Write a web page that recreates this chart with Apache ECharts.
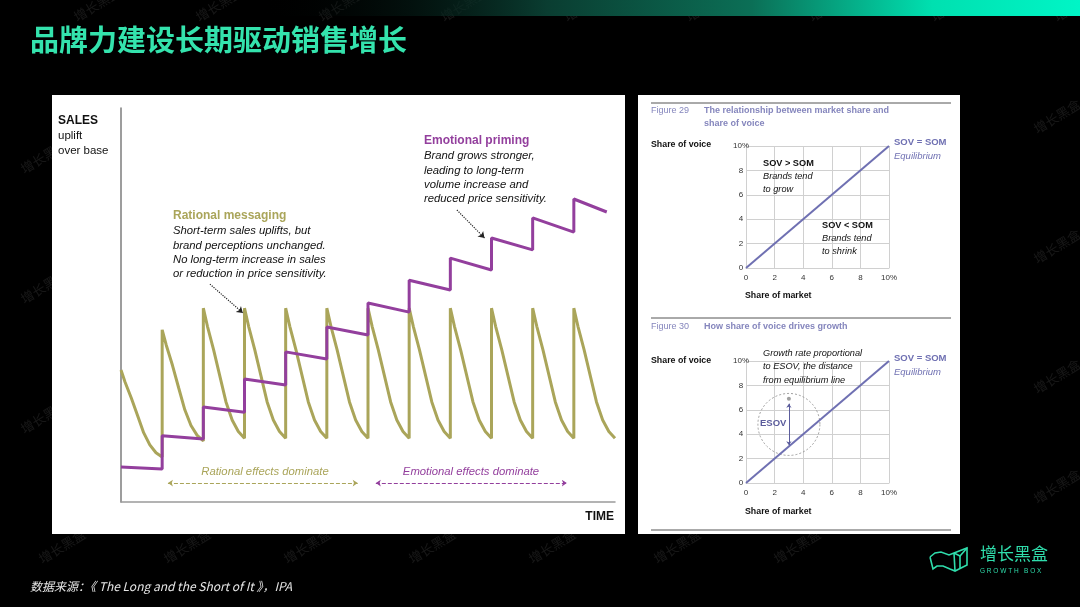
<!DOCTYPE html>
<html>
<head>
<meta charset="utf-8">
<script src="https://cdn.jsdelivr.net/npm/echarts@6/dist/echarts.min.js"></script>
<style>
html,body{margin:0;padding:0;background:#000;}
#c{width:1080px;height:607px;}
</style>
</head>
<body>
<div id="c"></div>
<script>
// ---------- data ----------
const timeRange = [0, 12];
const salesRange = [0, 100];
// Rational messaging (olive sawtooth): [time, sales uplift]
const rationalSales = [
  [0,33.5],[0.1,30.4],[0.25,26.4],[0.4,22.0],[0.55,17.6],[0.7,14.5],[0.85,12.5],[1,11.4],
  [1,43.7],[1.1,39.8],[1.25,34.7],[1.4,29.0],[1.55,23.4],[1.7,19.4],[1.85,16.9],[2,15.5],
  [2,49.2],[2.1,44.6],[2.25,38.6],[2.4,32.0],[2.55,25.4],[2.7,20.8],[2.85,17.9],[3,16.2],
  [3,49.2],[3.1,44.6],[3.25,38.6],[3.4,32.0],[3.55,25.4],[3.7,20.8],[3.85,17.9],[4,16.2],
  [4,49.2],[4.1,44.6],[4.25,38.6],[4.4,32.0],[4.55,25.4],[4.7,20.8],[4.85,17.9],[5,16.2],
  [5,49.2],[5.1,44.6],[5.25,38.6],[5.4,32.0],[5.55,25.4],[5.7,20.8],[5.85,17.9],[6,16.2],
  [6,49.2],[6.1,44.6],[6.25,38.6],[6.4,32.0],[6.55,25.4],[6.7,20.8],[6.85,17.9],[7,16.2],
  [7,49.2],[7.1,44.6],[7.25,38.6],[7.4,32.0],[7.55,25.4],[7.7,20.8],[7.85,17.9],[8,16.2],
  [8,49.2],[8.1,44.6],[8.25,38.6],[8.4,32.0],[8.55,25.4],[8.7,20.8],[8.85,17.9],[9,16.2],
  [9,49.2],[9.1,44.6],[9.25,38.6],[9.4,32.0],[9.55,25.4],[9.7,20.8],[9.85,17.9],[10,16.2],
  [10,49.2],[10.1,44.6],[10.25,38.6],[10.4,32.0],[10.55,25.4],[10.7,20.8],[10.85,17.9],[11,16.2],
  [11,49.2],[11.1,44.6],[11.25,38.6],[11.4,32.0],[11.55,25.4],[11.7,20.8],[11.85,17.9],[12,16.2]
];
// Emotional priming (purple staircase)
const emotionalSales = [
  [0,8.9],[1,8.4],[1,16.8],[2,16.0],[2,24.1],[3,22.8],[3,31.2],[4,29.7],
  [4,38.1],[5,36.3],[5,44.4],[6,42.4],[6,50.5],[7,48.2],[7,56.3],[8,53.8],
  [8,61.9],[9,58.9],[9,67.0],[10,64.0],[10,72.1],[11,68.5],[11,76.9],[11.8,73.6]
];
const rationalPointer = [[2.16,55.3],[2.96,48.0]];
const emotionalPointer = [[8.16,74.1],[8.83,67.0]];
const rationalSpan = [[1.14,4.8],[5.75,4.8]];
const emotionalSpan = [[6.19,4.8],[10.83,4.8]];
// Figure 29 / 30
const shareRange = [0, 10];
const shareTickLabels = ['0','2','4','6','8','10%'];
const equilibriumLine = [[0,0],[10,10]];
const esovCircle = [[3,4.8]];
const esovTop = [[3,6.9]];
const esovArrow = [[3,6.5],[3,3.1]];

// ---------- chart ----------
const chart = echarts.init(document.getElementById('c'), null, {renderer:'canvas'});
const OLIVE = '#aaa55a', PURPLE = '#933f9d', BLUE = '#6f70b2', FIGC = '#8586bd';
const SANS = 'Liberation Sans, Arial, sans-serif';

function T(x, y, text, o) {
  o = o || {};
  return {
    type: 'text', z: o.z != null ? o.z : 5, rotation: o.rot || 0, x: x, y: y,
    style: {
      text: text, x: 0, y: 0,
      fill: o.fill || '#111',
      fontSize: o.size || 11,
      fontWeight: o.weight || 'normal',
      fontStyle: o.italic ? 'italic' : 'normal',
      fontFamily: o.family || SANS,
      textAlign: o.align || 'left',
      textVerticalAlign: 'middle', verticalAlign: 'middle'
    }
  };
}
function HL(x1, x2, y, color, w) {
  return {type:'line', z:3, shape:{x1:x1,y1:y,x2:x2,y2:y}, style:{stroke:color, lineWidth:w||1}};
}
function PL(pts, color, w, ox, oy) {
  return {type:'polyline', z:5, x:ox, y:oy, shape:{points:pts}, style:{stroke:color, lineWidth:w, fill:null}};
}

const graphics = [];
// watermark hints on the black areas
const wm = [[75,18],[197,18],[320,18],[442,18],[565,18],[687,18],[810,18],[932,18],[1055,18],
            [40,560],[165,560],[285,560],[410,560],[530,560],[655,560],[775,560],
            [22,170],[22,300],[22,430],[1035,130],[1035,260],[1035,390],[1035,500]];
wm.forEach(p => {
  graphics.push(T(p[0], p[1], '增长黑盒', {fill:'rgba(255,255,255,0.09)', size:13, rot:0.55, family:'Noto Sans CJK SC', z:-20}));
});
// top gradient bar
graphics.push({type:'rect', z:-15, shape:{x:260,y:0,width:820,height:16},
  style:{fill:new echarts.graphic.LinearGradient(0,0,1,0,[
    {offset:0,color:'rgba(0,0,0,0)'},{offset:0.35,color:'#0a3d31'},
    {offset:0.6,color:'#0b6f56'},{offset:0.82,color:'#00e0b0'},{offset:1,color:'#00f5c6'}])}});
// title
graphics.push(T(30, 40, '品牌力建设长期驱动销售增长', {fill:'#34e3ad', size:29, weight:'bold', family:'Noto Sans CJK SC'}));
// panels
graphics.push({type:'rect', z:-10, shape:{x:52,y:95,width:573,height:439}, style:{fill:'#ffffff'}});
graphics.push({type:'rect', z:-10, shape:{x:638,y:95,width:322,height:439}, style:{fill:'#ffffff'}});
// left chart texts
graphics.push(T(58, 121, 'SALES', {size:12, weight:'bold'}));
graphics.push(T(58, 136, 'uplift', {size:11.5}));
graphics.push(T(58, 151, 'over base', {size:11.5}));
graphics.push(T(614, 517, 'TIME', {size:12, weight:'bold', align:'right'}));
graphics.push(T(173, 216, 'Rational messaging', {size:12, weight:'bold', fill:OLIVE}));
['Short-term sales uplifts, but','brand perceptions unchanged.','No long-term increase in sales','or reduction in price sensitivity.']
  .forEach((s,i) => graphics.push(T(173, 231 + i*14.4, s, {size:11.3, italic:true})));
graphics.push(T(424, 141, 'Emotional priming', {size:12, weight:'bold', fill:PURPLE}));
['Brand grows stronger,','leading to long-term','volume increase and','reduced price sensitivity.']
  .forEach((s,i) => graphics.push(T(424, 156 + i*14.4, s, {size:11.3, italic:true})));
graphics.push(T(265, 472, 'Rational effects dominate', {size:11.3, italic:true, fill:OLIVE, align:'center'}));
graphics.push(T(471, 472, 'Emotional effects dominate', {size:11.3, italic:true, fill:PURPLE, align:'center'}));
// right panel
graphics.push(HL(651, 951, 103, '#555', 1));
graphics.push(HL(651, 951, 318, '#555', 1));
graphics.push(HL(651, 951, 530, '#555', 1));
graphics.push(T(651, 111, 'Figure 29', {size:9, fill:FIGC}));
graphics.push(T(704, 111, 'The relationship between market share and', {size:9, weight:'bold', fill:FIGC}));
graphics.push(T(704, 124, 'share of voice', {size:9, weight:'bold', fill:FIGC}));
graphics.push(T(651, 145, 'Share of voice', {size:8.8, weight:'bold'}));
graphics.push(T(745, 296, 'Share of market', {size:8.8, weight:'bold'}));
graphics.push(T(894, 142, 'SOV = SOM', {size:9.5, weight:'bold', fill:BLUE}));
graphics.push(T(894, 156, 'Equilibrium', {size:9.5, italic:true, fill:BLUE}));
graphics.push(T(763, 163, 'SOV > SOM', {size:9.2, weight:'bold'}));
graphics.push(T(763, 176, 'Brands tend', {size:9.2, italic:true}));
graphics.push(T(763, 189, 'to grow', {size:9.2, italic:true}));
graphics.push(T(822, 225, 'SOV < SOM', {size:9.2, weight:'bold'}));
graphics.push(T(822, 238, 'Brands tend', {size:9.2, italic:true}));
graphics.push(T(822, 251, 'to shrink', {size:9.2, italic:true}));
graphics.push(T(651, 327, 'Figure 30', {size:9, fill:FIGC}));
graphics.push(T(704, 327, 'How share of voice drives growth', {size:9, weight:'bold', fill:FIGC}));
graphics.push(T(651, 361, 'Share of voice', {size:8.8, weight:'bold'}));
graphics.push(T(745, 512, 'Share of market', {size:8.8, weight:'bold'}));
graphics.push(T(894, 358, 'SOV = SOM', {size:9.5, weight:'bold', fill:BLUE}));
graphics.push(T(894, 372, 'Equilibrium', {size:9.5, italic:true, fill:BLUE}));
graphics.push(T(763, 353, 'Growth rate proportional', {size:9.2, italic:true}));
graphics.push(T(763, 366, 'to ESOV, the distance', {size:9.2, italic:true}));
graphics.push(T(763, 380, 'from equilibrium line', {size:9.2, italic:true}));
graphics.push(T(760, 423, 'ESOV', {size:9.5, weight:'bold', fill:'#5b5c9c'}));
// footer
graphics.push(T(30, 586, '数据来源：《 The Long and the Short of It 》，IPA', {size:12, italic:true, fill:'#e6e6e6', family:'Noto Sans CJK SC'}));
// logo (outline box icon)
const LG = '#2fdcab';
graphics.push(PL([[1,11],[6,7],[12,6],[20,9],[25,7],[38,2],[38,19],[26,25],[21,23],[14,20],[8,20],[4,23],[1,11]], LG, 1.6, 929, 546));
graphics.push(PL([[25,7],[26,25]], LG, 1.6, 929, 546));
graphics.push(PL([[25,7],[31,10],[38,2]], LG, 1.6, 929, 546));
graphics.push(PL([[31,10],[31,22]], LG, 1.6, 929, 546));
graphics.push(T(980, 554, '增长黑盒', {size:17, fill:LG, family:'Noto Sans CJK SC'}));
graphics.push(T(980, 571, 'G R O W T H   B O X', {size:6.5, fill:LG}));

function shareAxis(gi, isY) {
  return {
    type:'value', gridIndex:gi, min:shareRange[0], max:shareRange[1], interval:2, z:1,
    axisLine:{show:true, lineStyle:{color:'#d0d0d0', width:1}},
    axisTick:{show:false},
    splitLine:{show:true, lineStyle:{color:'#d0d0d0', width:1}},
    axisLabel:{show:true, fontSize:8, color:'#333', fontFamily:SANS, margin: isY ? 5 : 6,
      align:'center',
      formatter: v => shareTickLabels[Math.round(v/2)]}
  };
}

const option = {
  backgroundColor:'#000',
  animation:false,
  graphic:{elements:graphics},
  grid:[
    {left:121, top:108, width:494, height:394},
    {left:746, top:146, width:143, height:122},
    {left:746, top:361, width:143, height:122}
  ],
  xAxis:[
    {type:'value', gridIndex:0, min:timeRange[0], max:timeRange[1], z:1,
      axisLine:{show:true, lineStyle:{color:'#9a9a9a', width:1.5}}, axisTick:{show:false},
      axisLabel:{show:false}, splitLine:{show:false}},
    shareAxis(1,false), shareAxis(2,false)
  ],
  yAxis:[
    {type:'value', gridIndex:0, min:salesRange[0], max:salesRange[1], z:1,
      axisLine:{show:true, lineStyle:{color:'#7d7d7d', width:1.5}}, axisTick:{show:false},
      axisLabel:{show:false}, splitLine:{show:false}},
    shareAxis(1,true), shareAxis(2,true)
  ],
  series:[
    {type:'line', xAxisIndex:0, yAxisIndex:0, data:rationalSales, showSymbol:false, symbol:'none',
      lineStyle:{color:OLIVE, width:3}, z:3},
    {type:'line', xAxisIndex:0, yAxisIndex:0, data:emotionalSales, showSymbol:false, symbol:'none',
      lineStyle:{color:PURPLE, width:3}, z:4},
    {type:'lines', coordinateSystem:'cartesian2d', xAxisIndex:0, yAxisIndex:0, z:5,
      symbol:['none','arrow'], symbolSize:6,
      lineStyle:{color:'#222', width:1.2, type:'dotted', opacity:1},
      data:[{coords:rationalPointer},{coords:emotionalPointer}]},
    {type:'lines', coordinateSystem:'cartesian2d', xAxisIndex:0, yAxisIndex:0, z:5,
      symbol:['arrow','arrow'], symbolSize:5,
      lineStyle:{color:OLIVE, width:1, type:'dashed', opacity:1},
      data:[{coords:rationalSpan}]},
    {type:'lines', coordinateSystem:'cartesian2d', xAxisIndex:0, yAxisIndex:0, z:5,
      symbol:['arrow','arrow'], symbolSize:5,
      lineStyle:{color:PURPLE, width:1, type:'dashed', opacity:1},
      data:[{coords:emotionalSpan}]},
    {type:'line', xAxisIndex:1, yAxisIndex:1, data:equilibriumLine, symbol:'none',
      lineStyle:{color:BLUE, width:2}, z:4},
    {type:'line', xAxisIndex:2, yAxisIndex:2, data:equilibriumLine, symbol:'none',
      lineStyle:{color:BLUE, width:2}, z:4},
    {type:'scatter', xAxisIndex:2, yAxisIndex:2, data:esovCircle, symbol:'circle', symbolSize:62,
      itemStyle:{color:'rgba(0,0,0,0)', borderColor:'#8a8a8a', borderWidth:1, borderType:[2,2]}, z:3},
    {type:'scatter', xAxisIndex:2, yAxisIndex:2, data:esovTop, symbol:'circle', symbolSize:4,
      itemStyle:{color:'#888'}, z:5},
    {type:'lines', coordinateSystem:'cartesian2d', xAxisIndex:2, yAxisIndex:2, z:5,
      symbol:['arrow','arrow'], symbolSize:4,
      lineStyle:{color:'#5b5c9c', width:1, opacity:1},
      data:[{coords:esovArrow}]}
  ]
};
chart.setOption(option);
</script>
</body>
</html>
